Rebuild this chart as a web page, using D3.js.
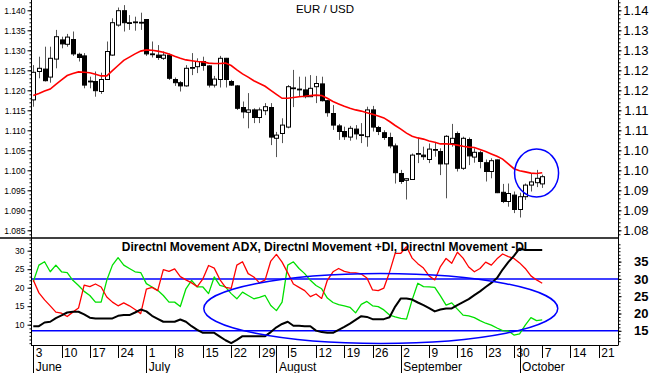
<!DOCTYPE html>
<html>
<head>
<meta charset="utf-8">
<script src="https://cdn.jsdelivr.net/npm/d3@7"></script>
<style>
  body { margin: 0; background: #fff; }
  svg { display: block; font-family: 'Liberation Sans', Arial, sans-serif; }
</style>
</head>
<body>
<svg id="chart"></svg>
<script>
// ---- data ----
const START_DAY = new Date(2019, 5, 3);
const END_DAY = new Date(2019, 9, 26);
const monthLabels = ['June', 'July', 'August', 'September', 'October'];

const opens = [1.1176,1.1247,1.1253,1.1233,1.1278,1.1326,1.1315,1.1327,1.1290,1.1286,
  1.1223,1.1222,1.1197,1.1227,1.1288,1.1363,1.1399,1.1369,1.1370,1.1370,
  1.1377,1.1291,1.1288,1.1280,1.1288,1.1227,1.1219,1.1211,1.1256,1.1259,
  1.1272,1.1261,1.1213,1.1227,1.1280,1.1222,1.1211,1.1157,1.1145,1.1151,
  1.1132,1.1149,1.1157,1.1080,1.1092,1.1108,1.1205,1.1203,1.1201,1.1184,
  1.1209,1.1216,1.1174,1.1142,1.1111,1.1097,1.1083,1.1103,1.1088,1.1084,
  1.1151,1.1107,1.1094,1.1082,1.1061,1.0992,1.0975,1.0977,1.1041,1.1038,
  1.1027,1.1051,1.1047,1.1016,1.1067,1.1092,1.1005,1.1077,1.1033,1.1044,
  1.1019,1.0997,1.1026,1.0945,1.0922,1.0938,1.0902,1.0934,1.0963,1.0969,
  1.0966];
const highs = [1.1263,1.1284,1.1309,1.1309,1.1351,1.1334,1.1341,1.1347,1.1294,1.1293,
  1.1234,1.1247,1.1244,1.1322,1.1380,1.1407,1.1413,1.1388,1.1384,1.1394,
  1.1378,1.1322,1.1313,1.1297,1.1292,1.1232,1.1223,1.1263,1.1293,1.1280,
  1.1284,1.1263,1.1236,1.1286,1.1281,1.1226,1.1213,1.1172,1.1193,1.1155,
  1.1157,1.1168,1.1168,1.1096,1.1130,1.1213,1.1251,1.1234,1.1234,1.1238,
  1.1236,1.1234,1.1176,1.1163,1.1116,1.1109,1.1111,1.1113,1.1118,1.1159,
  1.1161,1.1111,1.1100,1.1094,1.1067,1.1001,1.0980,1.1042,1.1080,1.1059,
  1.1067,1.1071,1.1055,1.1088,1.1116,1.1097,1.1084,1.1082,1.1055,1.1049,
  1.1027,1.1030,1.1027,1.0966,1.0967,1.0947,1.0944,1.0967,1.0992,1.1001,
  1.0989];
const lows = [1.1159,1.1230,1.1222,1.1219,1.1255,1.1305,1.1309,1.1286,1.1272,1.1205,
  1.1205,1.1184,1.1191,1.1226,1.1286,1.1359,1.1347,1.1351,1.1349,1.1351,
  1.1286,1.1282,1.1276,1.1276,1.1226,1.1211,1.1197,1.1209,1.1238,1.1243,
  1.1249,1.1207,1.1207,1.1207,1.1207,1.1211,1.1151,1.1130,1.1105,1.1118,
  1.1118,1.1138,1.1063,1.1033,1.1068,1.1105,1.1158,1.1184,1.1180,1.1184,
  1.1168,1.1172,1.1134,1.1101,1.1076,1.1076,1.1074,1.1077,1.1068,1.1059,
  1.1097,1.1088,1.1076,1.1055,1.0967,1.0966,1.0927,1.0976,1.1018,1.1026,
  1.1018,1.1034,1.0988,1.0930,1.1059,1.0997,1.1001,1.1013,1.1019,1.1005,
  1.0972,1.0980,1.0943,1.0918,1.0909,1.0893,1.0882,1.0926,1.0947,1.0958,
  1.0956];
const closes = [1.1245,1.1255,1.1224,1.1280,1.1334,1.1316,1.1333,1.1291,1.1282,1.1213,
  1.1222,1.1199,1.1227,1.1297,1.1369,1.1399,1.1369,1.1367,1.1371,1.1369,
  1.1291,1.1290,1.1282,1.1288,1.1230,1.1219,1.1211,1.1255,1.1257,1.1272,
  1.1262,1.1213,1.1228,1.1280,1.1227,1.1213,1.1155,1.1146,1.1151,1.1132,
  1.1151,1.1159,1.1083,1.1088,1.1113,1.1209,1.1206,1.1203,1.1184,1.1205,
  1.1217,1.1174,1.1144,1.1113,1.1097,1.1084,1.1105,1.1091,1.1089,1.1151,
  1.1108,1.1097,1.1082,1.1061,1.0994,1.0972,1.0979,1.1038,1.1042,1.1034,
  1.1053,1.1052,1.1016,1.1085,1.1080,1.1005,1.1080,1.1036,1.1045,1.1022,
  1.0997,1.1024,1.0944,1.0922,1.0942,1.0902,1.0934,1.0963,1.0971,1.0980,
  1.0984];
const movingAverage = [1.1187,1.1192,1.1198,1.1203,1.1215,1.1226,1.1237,1.1242,1.1246,1.1245,
  1.1244,1.1240,1.1236,1.1236,1.1249,1.1262,1.1275,1.1283,1.1291,1.1298,
  1.1301,1.1300,1.1298,1.1295,1.1291,1.1285,1.1280,1.1276,1.1274,1.1272,
  1.1271,1.1268,1.1267,1.1267,1.1268,1.1262,1.1251,1.1241,1.1233,1.1224,
  1.1217,1.1210,1.1200,1.1190,1.1180,1.1180,1.1182,1.1184,1.1185,1.1187,
  1.1188,1.1187,1.1180,1.1172,1.1166,1.1160,1.1155,1.1151,1.1148,1.1144,
  1.1140,1.1136,1.1131,1.1122,1.1112,1.1103,1.1093,1.1085,1.1081,1.1078,
  1.1073,1.1070,1.1066,1.1066,1.1065,1.1063,1.1060,1.1058,1.1057,1.1052,
  1.1047,1.1041,1.1035,1.1028,1.1016,1.1004,1.0999,1.0996,1.0993,1.0992,
  1.0994];

const plusDI = [21.6,26.1,27.0,24.3,26.1,24.3,24.1,22.0,20.6,19.0,
  17.9,16.1,16.1,22.0,26.1,28.1,26.1,25.2,24.3,24.1,
  21.1,20.2,19.3,17.9,16.1,16.1,14.9,19.7,22.0,20.2,
  20.2,18.4,22.9,20.6,20.2,18.4,17.0,18.8,17.9,17.0,
  17.4,17.9,15.2,13.8,16.1,26.1,27.0,25.2,23.8,22.0,
  20.6,19.7,17.2,16.0,15.4,15.1,14.7,13.2,15.5,16.3,
  15.1,14.9,14.0,12.6,12.1,11.7,11.5,16.7,21.2,20.3,
  20.2,20.1,17.8,15.3,15.9,14.2,12.6,12.4,11.9,11.1,
  10.4,9.9,9.1,8.4,8.3,7.2,7.5,9.9,11.9,11.1,
  11.3];
const minusDI = [22.1,18.6,16.7,15.1,13.4,13.1,12.2,13.4,14.5,20.7,
  20.3,21.0,20.2,17.5,16.1,15.1,15.9,15.1,14.1,13.0,
  19.6,20.1,19.2,24.9,24.4,25.1,23.0,22.1,21.3,20.3,
  22.4,26.0,25.3,22.2,20.1,19.8,26.1,27.0,23.8,22.9,
  21.3,22.1,27.2,29.0,26.9,24.0,21.0,20.1,19.2,17.6,
  18.3,17.1,22.0,24.3,25.2,24.4,24.1,24.0,23.7,22.6,
  19.4,19.2,19.9,24.2,29.3,29.3,31.1,28.0,26.5,25.3,
  23.2,22.1,25.7,27.9,26.6,29.6,28.0,25.6,24.3,25.2,
  26.9,26.1,27.8,29.1,28.4,27.9,26.7,25.2,23.2,22.1,
  21.2];
const adx = [9.6,9.6,10.6,10.8,11.8,12.5,13.3,13.5,13.5,12.8,
  11.9,11.7,11.7,11.7,11.7,12.4,12.6,12.6,13.3,14.1,
  13.6,12.4,11.6,10.8,10.8,10.8,11.4,10.8,9.6,8.6,
  7.8,7.8,7.8,6.8,5.8,5.0,5.9,6.9,6.9,6.9,
  6.9,6.9,8.0,9.3,10.2,10.8,9.7,9.7,9.6,9.6,
  8.4,8.0,7.8,7.8,8.6,9.4,10.3,11.3,12.3,12.1,
  11.5,11.5,11.5,12.0,14.9,17.1,17.1,16.8,16.0,15.3,
  14.5,13.6,14.1,14.4,14.4,15.3,16.1,16.9,18.0,19.0,
  20.2,21.3,22.6,24.9,26.9,28.6,30.6,30.2,30.2,30.2,
  30.2];

const priceTicks = [1.085,1.090,1.095,1.100,1.105,1.110,1.115,1.120,1.125,1.130,1.135,1.140];
const rightPriceLabels = ['1.08','1.09','1.09','1.10','1.10','1.11','1.11','1.12','1.12','1.13','1.13','1.14'];
const leftIndicatorTicks = [10, 15, 20, 25, 30];
const rightIndicatorTicks = [15, 20, 25, 30, 35];
const levelLines = [30, 15];

const TITLE = 'EUR / USD';
const INDICATOR_TITLE = 'Directnl Movement ADX, Directnl Movement +DI, Directnl Movement -DI';

// ---- layout ----
const WIDTH = 650;
const HEIGHT = 373;
const PLOT_LEFT = 31;
const PLOT_RIGHT = 618;
const TOP_PANEL_BOTTOM = 238;
const LOW_PANEL_BOTTOM = 345;
const WEEK_ROW_BOTTOM = 358;

const BLUE = '#0000ff';
const RED = '#ff0000';
const GREEN = '#00e000';

const svg = d3.select('#chart').attr('width', WIDTH).attr('height', HEIGHT);
const crisp = v => Math.round(v) + 0.5;

const x = d3.scaleLinear().domain([-0.4, 103.4]).range([PLOT_LEFT, PLOT_RIGHT]);
const yPrice = d3.scaleLinear().domain([1.085, 1.140]).range([230.3, 10.3]);
const yInd = d3.scaleLinear().domain([10, 30]).range([324.7, 250.7]);
const yIndRight = d3.scaleLinear().domain([15, 35]).range([330.8, 261.6]);

const tradingDays = d3.timeDays(START_DAY, END_DAY).filter(d => d.getDay() !== 0 && d.getDay() !== 6);

// clip paths
const defs = svg.append('defs');
defs.append('clipPath').attr('id', 'clip-top').append('rect')
  .attr('x', PLOT_LEFT).attr('y', 0).attr('width', PLOT_RIGHT - PLOT_LEFT).attr('height', TOP_PANEL_BOTTOM);
defs.append('clipPath').attr('id', 'clip-low').append('rect')
  .attr('x', PLOT_LEFT).attr('y', TOP_PANEL_BOTTOM).attr('width', PLOT_RIGHT - PLOT_LEFT)
  .attr('height', LOW_PANEL_BOTTOM - TOP_PANEL_BOTTOM);

const styleAxis = (g, fontSize, weight) => {
  g.select('.domain').remove();
  g.selectAll('line').attr('stroke', '#000');
  g.selectAll('text').attr('fill', '#000').style('font-size', `${fontSize}px`)
    .style('font-weight', weight || 'normal').attr('font-family', null);
};

const drawPriceAxes = () => {
  const minor = d3.range(1084, 1143).map(v => v / 1000);
  svg.append('g').attr('transform', `translate(${PLOT_LEFT + 0.5},0)`)
    .call(d3.axisLeft(yPrice).tickValues(minor).tickSize(2).tickFormat(''))
    .call(g => styleAxis(g, 8));
  svg.append('g').attr('transform', `translate(${PLOT_LEFT + 0.5},0)`)
    .call(d3.axisLeft(yPrice).tickValues(priceTicks).tickSize(4).tickPadding(2).tickFormat(d3.format('.3f')))
    .call(g => styleAxis(g, 8.5));

  svg.append('g').attr('transform', `translate(${PLOT_RIGHT + 0.5},0)`)
    .call(d3.axisRight(yPrice).tickValues(minor).tickSize(2).tickFormat(''))
    .call(g => styleAxis(g, 8));
  svg.append('g').attr('transform', `translate(${PLOT_RIGHT + 0.5},0)`)
    .call(d3.axisRight(yPrice).tickValues(priceTicks).tickSize(3)
      .tickFormat((d, i) => rightPriceLabels[i]))
    .call(g => styleAxis(g, 13))
    .call(g => g.selectAll('text').attr('x', 30).attr('text-anchor', 'end'));
};

const drawIndicatorAxes = () => {
  svg.append('g').attr('transform', `translate(${PLOT_LEFT + 0.5},0)`)
    .call(d3.axisLeft(yInd).tickValues(d3.range(5, 34)).tickSize(2).tickFormat(''))
    .call(g => styleAxis(g, 8));
  svg.append('g').attr('transform', `translate(${PLOT_LEFT + 0.5},0)`)
    .call(d3.axisLeft(yInd).tickValues(leftIndicatorTicks).tickSize(4).tickPadding(3))
    .call(g => styleAxis(g, 8.5));

  svg.append('g').attr('transform', `translate(${PLOT_RIGHT + 0.5},0)`)
    .call(d3.axisRight(yIndRight).tickValues(d3.range(12, 41)).tickSize(2).tickFormat(''))
    .call(g => styleAxis(g, 8));
  svg.append('g').attr('transform', `translate(${PLOT_RIGHT + 0.5},0)`)
    .call(d3.axisRight(yIndRight).tickValues(rightIndicatorTicks).tickSize(3))
    .call(g => styleAxis(g, 13, 'bold'))
    .call(g => g.selectAll('text').attr('x', 30).attr('text-anchor', 'end'));
};

const drawFrame = () => {
  const frame = svg.append('g').attr('stroke', '#000').attr('stroke-width', 1);
  frame.append('line').attr('x1', crisp(PLOT_LEFT)).attr('x2', crisp(PLOT_LEFT))
    .attr('y1', 0).attr('y2', LOW_PANEL_BOTTOM);
  frame.append('line').attr('x1', crisp(PLOT_RIGHT)).attr('x2', crisp(PLOT_RIGHT))
    .attr('y1', 0).attr('y2', LOW_PANEL_BOTTOM);
  frame.append('line').attr('x1', 0).attr('x2', crisp(PLOT_RIGHT))
    .attr('y1', TOP_PANEL_BOTTOM).attr('y2', TOP_PANEL_BOTTOM).attr('stroke-width', 1.5);
  frame.append('line').attr('x1', PLOT_LEFT).attr('x2', crisp(PLOT_RIGHT))
    .attr('y1', crisp(LOW_PANEL_BOTTOM)).attr('y2', crisp(LOW_PANEL_BOTTOM));
};

const drawCandles = () => {
  const candles = opens.map((open, i) => ({ i, open, high: highs[i], low: lows[i], close: closes[i] }));
  const g = svg.append('g').attr('clip-path', 'url(#clip-top)');

  g.selectAll('line.wick').data(candles).join('line')
    .attr('class', 'wick')
    .attr('x1', d => crisp(x(d.i))).attr('x2', d => crisp(x(d.i)))
    .attr('y1', d => yPrice(d.high)).attr('y2', d => yPrice(d.low))
    .attr('stroke', '#555');

  g.selectAll('rect.body').data(candles).join('rect')
    .attr('class', 'body')
    .attr('x', d => crisp(x(d.i)) - 2)
    .attr('width', 4)
    .attr('y', d => yPrice(Math.max(d.open, d.close)))
    .attr('height', d => Math.max(0.8, Math.abs(yPrice(d.open) - yPrice(d.close))))
    .attr('fill', d => (d.close >= d.open ? '#fff' : '#000'))
    .attr('stroke', '#000');

  g.append('path')
    .datum(movingAverage)
    .attr('fill', 'none').attr('stroke', RED).attr('stroke-width', 1.6)
    .attr('d', d3.line().x((d, i) => x(i)).y(d => yPrice(d)));

  g.append('ellipse')
    .attr('cx', x(89)).attr('cy', yPrice(1.0993)).attr('rx', 22).attr('ry', 24)
    .attr('fill', 'none').attr('stroke', BLUE).attr('stroke-width', 1.5);
};

const drawIndicators = () => {
  const g = svg.append('g').attr('clip-path', 'url(#clip-low)');
  const line = d3.line().x((d, i) => x(i)).y(d => yInd(d));

  g.selectAll('line.level').data(levelLines).join('line')
    .attr('class', 'level')
    .attr('x1', PLOT_LEFT).attr('x2', PLOT_RIGHT)
    .attr('y1', d => yIndRight(d)).attr('y2', d => yIndRight(d))
    .attr('stroke', BLUE).attr('stroke-width', 1.5);

  [[plusDI, GREEN, 1.3], [minusDI, RED, 1.3], [adx, '#000', 2]].forEach(([series, color, w]) => {
    g.append('path').datum(series)
      .attr('fill', 'none').attr('stroke', color).attr('stroke-width', w)
      .attr('stroke-linejoin', 'round')
      .attr('d', line);
  });

  svg.append('text')
    .attr('x', 324.5).attr('y', 251)
    .attr('text-anchor', 'middle')
    .style('font-size', '12px').style('font-weight', 'bold')
    .text(INDICATOR_TITLE);

  g.append('ellipse')
    .attr('cx', x(61.45)).attr('cy', yInd(14.4)).attr('rx', 177).attr('ry', 35)
    .attr('fill', 'none').attr('stroke', BLUE).attr('stroke-width', 1.5);
};

const drawDateAxis = () => {
  const g = svg.append('g');
  const mondays = tradingDays.map((d, i) => ({ d, i })).filter(({ d }) => d.getDay() === 1);
  const monthStarts = tradingDays.map((d, i) => ({ d, i }))
    .filter(({ d, i }) => i === 0 || d.getMonth() !== tradingDays[i - 1].getMonth())
    .slice(0, monthLabels.length);

  g.selectAll('line.week').data(mondays).join('line')
    .attr('x1', ({ i }) => crisp(x(i))).attr('x2', ({ i }) => crisp(x(i)))
    .attr('y1', LOW_PANEL_BOTTOM).attr('y2', WEEK_ROW_BOTTOM)
    .attr('stroke', '#000');

  g.selectAll('text.week').data(mondays).join('text')
    .attr('x', ({ i }) => x(i) + 2.5).attr('y', 357)
    .style('font-size', '12px')
    .text(({ d }) => d.getDate());

  g.selectAll('line.month').data(monthStarts).join('line')
    .attr('x1', ({ i }) => crisp(x(i))).attr('x2', ({ i }) => crisp(x(i)))
    .attr('y1', LOW_PANEL_BOTTOM).attr('y2', HEIGHT)
    .attr('stroke', '#000');

  g.selectAll('text.month').data(monthStarts).join('text')
    .attr('x', ({ i }) => x(i) + 2.5).attr('y', 370.5)
    .style('font-size', '12px')
    .text((_, k) => monthLabels[k]);
};

svg.append('text')
  .attr('x', 325).attr('y', 13).attr('text-anchor', 'middle')
  .style('font-size', '11.5px')
  .text(TITLE);

drawCandles();
drawIndicators();
drawFrame();
drawPriceAxes();
drawIndicatorAxes();
drawDateAxis();
</script>
</body>
</html>
